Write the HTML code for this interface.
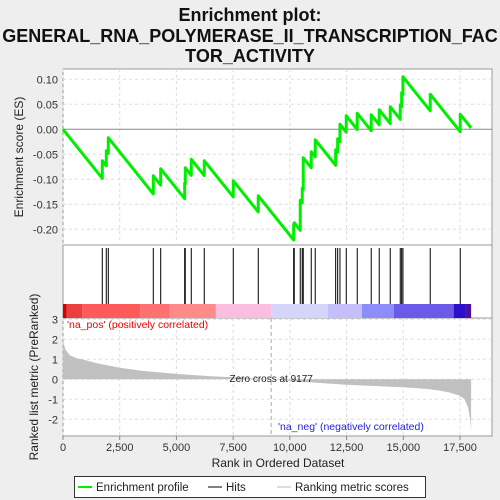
<!DOCTYPE html>
<html><head><meta charset="utf-8"><style>
body{margin:0;background:#eeeeee;}
svg{display:block;font-family:"Liberation Sans",sans-serif;}
</style></head><body>
<svg id="c" width="500" height="500"></svg>
<script>
const hitRanks=[1732,1908,1997,3980,4306,5364,5390,5654,6227,7506,8607,10168,10194,10458,10546,10590,10943,11119,12019,12107,12208,12486,12970,13587,13940,14425,14866,14928,14985,16188,17510];
const esPeaks=[-0.063,-0.043,-0.017,-0.093,-0.079,-0.108,-0.077,-0.060,-0.063,-0.103,-0.133,-0.190,-0.187,-0.142,-0.118,-0.057,-0.045,-0.021,-0.041,-0.019,0.010,0.027,0.032,0.029,0.039,0.045,0.049,0.073,0.105,0.070,0.030];
const metricRanks=[0,100,300,600,1000,1500,2500,3500,5000,6500,7500,9177,10500,12500,14000,15000,16000,16500,17000,17500,17700,17850,17950,17990];
const metricVals=[1.9,1.5,1.2,1.05,0.95,0.8,0.58,0.42,0.27,0.15,0.1,0.0,-0.12,-0.27,-0.35,-0.4,-0.48,-0.55,-0.65,-0.82,-1.0,-1.4,-2.0,-2.6];
const xTicks=[0,2500,5000,7500,10000,12500,15000,17500];
const esTicks=[0.10,0.05,0.00,-0.05,-0.10,-0.15,-0.20];
const mTicks=[3,2,1,0,-1,-2];
const N=17990, zeroCross=9177;
const barSegs=[[0,160,'#d40000'],[160,840,'#e84040'],[840,3400,'#ff5a5a'],[3400,4710,'#ff7070'],[4710,6740,'#ff8a8a'],[6740,9200,'#fbbde0'],[9200,11680,'#d5d5fb'],[11680,13180,'#c4bffa'],[13180,14590,'#8c8cfa'],[14590,17220,'#6b5ae8'],[17220,17760,'#2a10c8'],[17760,17990,'#4a10a0']];

const L=63,R=492;
const X=r=>L+r*(397/17500);
const YE=v=>129.3-v*500;
const YM=v=>379.3-v*20;
const svg=document.getElementById('c');
const NS='http://www.w3.org/2000/svg';
function mk(t,a,p){const e=document.createElementNS(NS,t);for(const k in a)e.setAttribute(k,a[k]);(p||svg).appendChild(e);return e;}
function txt(s,a){const e=mk('text',a);e.textContent=s;return e;}

let t1=txt('Enrichment plot:',{x:250,y:21,'text-anchor':'middle','font-size':'18','font-weight':'bold',fill:'#111'});

let t2=txt('GENERAL_RNA_POLYMERASE_II_TRANSCRIPTION_FAC',{x:250,y:42,'text-anchor':'middle','font-size':'18','font-weight':'bold',fill:'#111'});

let t3=txt('TOR_ACTIVITY',{x:250,y:62,'text-anchor':'middle','font-size':'18','font-weight':'bold',fill:'#111'});


let p1=mk('rect',{x:L,y:69,width:R-L,height:176,fill:'#fff',stroke:'#999'});

let p2=mk('rect',{x:L,y:245,width:R-L,height:73,fill:'#fff',stroke:'#999'});

let p3=mk('rect',{x:L,y:318,width:R-L,height:118,fill:'#fff',stroke:'#999'});


xTicks.forEach(v=>{
 let g=mk('line',{x1:X(v),x2:X(v),y1:69,y2:245,stroke:'#ddd','stroke-dasharray':'3,3'});
 
 let g2=mk('line',{x1:X(v),x2:X(v),y1:318,y2:436,stroke:'#ddd','stroke-dasharray':'3,3'});
 
 let tl=mk('line',{x1:X(v),x2:X(v),y1:436,y2:440,stroke:'#888'});
 
 let lb=txt(v.toLocaleString('en-US'),{x:X(v),y:451,'text-anchor':'middle','font-size':'11',fill:'#333'});
 
});
esTicks.forEach(v=>{
 let g=mk('line',{x1:L,x2:R,y1:YE(v),y2:YE(v),stroke:v===0?'#888':'#ddd','stroke-dasharray':v===0?'':'3,3'});
 
 let lb=txt(v.toFixed(2),{x:58,y:YE(v)+4,'text-anchor':'end','font-size':'11',fill:'#333'});
 
});
mTicks.forEach(v=>{
 let g=mk('line',{x1:L,x2:R,y1:YM(v),y2:YM(v),stroke:'#ddd','stroke-dasharray':'3,3'});
 
 let lb=txt(String(v),{x:58,y:YM(v)+4,'text-anchor':'end','font-size':'11',fill:'#333'});
 
});

let d='M'+X(0)+','+YM(0);
metricRanks.forEach((r,i)=>{d+=' L'+X(r)+','+YM(metricVals[i]);});
d+=' L'+X(N)+','+YM(0)+' Z';
let area=mk('path',{d:d,fill:'#c0c0c0',stroke:'none'});

let zl=mk('line',{x1:X(zeroCross),x2:X(zeroCross),y1:318,y2:436,stroke:'#aaa','stroke-dasharray':'4,3'});

let zt=txt('Zero cross at '+zeroCross,{x:X(zeroCross),y:382,'text-anchor':'middle','font-size':'10',fill:'#222'});

let pl=txt("'na_pos' (positively correlated)",{x:67,y:328,'font-size':'10.5',fill:'#e00'});

let nl=txt("'na_neg' (negatively correlated)",{x:278,y:430,'font-size':'10.5',fill:'#22d'});


barSegs.forEach(s=>{
 let r=mk('rect',{x:X(s[0]),y:304,width:X(s[1])-X(s[0]),height:14,fill:s[2]});
 
});

hitRanks.forEach(h=>{
 let l=mk('line',{x1:X(h),x2:X(h),y1:248,y2:304,stroke:'#000','stroke-width':1});
 
});

const slope=(0-(-0.098))/1732;
let pts=[[0,0]];let cur=0,last=0;
hitRanks.forEach((h,i)=>{cur=cur-slope*(h-last);pts.push([h,cur]);cur=esPeaks[i];pts.push([h,cur]);last=h;});
cur=cur-slope*(N-last);pts.push([N,cur]);
let es=mk('polyline',{points:pts.map(p=>X(p[0])+','+YE(p[1])).join(' '),fill:'none',stroke:'#00ee00','stroke-width':3,'stroke-linejoin':'round'});


let ya=txt('Enrichment score (ES)',{x:0,y:0,'text-anchor':'middle','font-size':'12',fill:'#222',transform:'translate(23,157) rotate(-90)'});

let yb=txt('Ranked list metric (PreRanked)',{x:0,y:0,'text-anchor':'middle','font-size':'12',fill:'#222',transform:'translate(38,377) rotate(-90)'});

let xa=txt('Rank in Ordered Dataset',{x:278,y:467,'text-anchor':'middle','font-size':'12',fill:'#222'});


let lg=mk('rect',{x:74.5,y:476.5,width:351,height:21,fill:'#fff',stroke:'#333'});

let l1=mk('line',{x1:78,x2:92,y1:487,y2:487,stroke:'#00ee00','stroke-width':2});

let lt1=txt('Enrichment profile',{x:96,y:491,'font-size':'11.5',fill:'#222'});

let l2=mk('line',{x1:208,x2:222,y1:487,y2:487,stroke:'#000','stroke-width':1});

let lt2=txt('Hits',{x:226,y:491,'font-size':'11.5',fill:'#222'});

let l3=mk('line',{x1:277,x2:291,y1:487,y2:487,stroke:'#bbb','stroke-width':1});

let lt3=txt('Ranking metric scores',{x:295,y:491,'font-size':'11.5',fill:'#222'});

</script>
</body></html>
